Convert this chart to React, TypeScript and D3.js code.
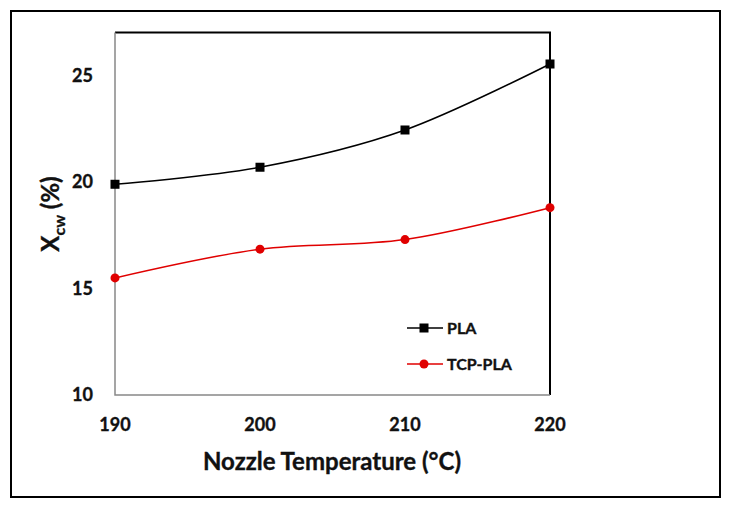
import { useEffect, useRef } from "react";
import * as d3 from "d3";

const temps = [190, 200, 210, 220];
const pla = [19.9, 20.7, 22.45, 25.55];
const tcpPla = [15.5, 16.85, 17.3, 18.8];
const yTicks = [10, 15, 20, 25];
const seriesNames = ["PLA", "TCP-PLA"];

const W = 732;
const H = 510;
const FONT = "Lato, 'Open Sans', sans-serif";

export default function App() {
  const ref = useRef<SVGSVGElement>(null);

  useEffect(() => {
    const svg = d3.select(ref.current);
    svg.selectAll("*").remove();

    const left = 115, right = 550, top = 32.5, bottom = 395;
    const x = d3.scaleLinear().domain([190, 220]).range([left, right]);
    const y = d3.scaleLinear().domain([10, 27.03]).range([bottom, top]);

    svg.append("rect").attr("width", W).attr("height", H).attr("fill", "#fff");

    // outer frame
    svg
      .append("rect")
      .attr("x", 11)
      .attr("y", 11)
      .attr("width", 709)
      .attr("height", 486)
      .attr("fill", "none")
      .attr("stroke", "#000")
      .attr("stroke-width", 2);

    // plot frame: top/right black, left/bottom gray
    svg
      .append("path")
      .attr("d", `M${left},${top}H${right}V${bottom}`)
      .attr("fill", "none")
      .attr("stroke", "#000")
      .attr("stroke-width", 2);
    svg
      .append("path")
      .attr("d", `M${left},${top}V${bottom}H${right}`)
      .attr("fill", "none")
      .attr("stroke", "#888")
      .attr("stroke-width", 1.5);

    const boldText = (sel: any, size: number) =>
      sel
        .attr("font-family", FONT)
        .attr("font-weight", "bold")
        .attr("font-size", size)
        .attr("fill", "#111")
        .attr("stroke", "#111")
        .attr("stroke-width", 0.35);

    // ticks
    svg
      .append("g")
      .selectAll("text")
      .data(yTicks)
      .join("text")
      .attr("x", 93)
      .attr("y", (d) => y(d))
      .attr("dy", "0.35em")
      .attr("text-anchor", "end")
      .call(boldText, 18)
      .text((d) => d);

    svg
      .append("g")
      .selectAll("text")
      .data(temps)
      .join("text")
      .attr("x", (d) => x(d))
      .attr("y", 425)
      .attr("dy", "0.35em")
      .attr("text-anchor", "middle")
      .call(boldText, 18)
      .text((d) => d);

    // axis titles
    svg
      .append("text")
      .attr("x", 332)
      .attr("y", 462)
      .attr("dy", "0.35em")
      .attr("text-anchor", "middle")
      .call(boldText, 24)
      .text("Nozzle Temperature (°C)");

    const yt = svg
      .append("text")
      .attr("transform", "translate(51,214) rotate(-90)")
      .attr("dy", "0.35em")
      .attr("text-anchor", "middle")
      .call(boldText, 24);
    yt.append("tspan").text("X");
    yt.append("tspan").attr("font-size", 16).attr("dy", 6).text("cw");
    yt.append("tspan").attr("dy", -6).text(" (%)");

    const line = d3
      .line<number>()
      .x((_, i) => x(temps[i]))
      .y((d) => y(d))
      .curve(d3.curveCatmullRom.alpha(0));

    const series = [
      { name: seriesNames[0], values: pla, color: "#000", shape: "square" },
      { name: seriesNames[1], values: tcpPla, color: "#e00000", shape: "circle" },
    ];

    const marker = (g: any, cx: number, cy: number, s: any) => {
      if (s.shape === "square") {
        g.append("rect")
          .attr("x", cx - 4.5)
          .attr("y", cy - 4.5)
          .attr("width", 9)
          .attr("height", 9)
          .attr("fill", s.color);
      } else {
        g.append("circle").attr("cx", cx).attr("cy", cy).attr("r", 4.5).attr("fill", s.color);
      }
    };

    series.forEach((s, si) => {
      const g = svg.append("g");
      g.append("path")
        .attr("d", line(s.values) ?? "")
        .attr("fill", "none")
        .attr("stroke", s.color)
        .attr("stroke-width", 1.5);
      s.values.forEach((v, i) => marker(g, x(temps[i]), y(v), s));

      // legend
      const ly = 328 + si * 36;
      g.append("line")
        .attr("x1", 407)
        .attr("x2", 443)
        .attr("y1", ly)
        .attr("y2", ly)
        .attr("stroke", s.color)
        .attr("stroke-width", 1.5);
      marker(g, 424, ly, s);
      g.append("text")
        .attr("x", 447)
        .attr("y", ly)
        .attr("dy", "0.35em")
        .call(boldText, 16)
        .text(s.name);
    });
  }, []);

  return (
    <svg
      ref={ref}
      width={W}
      height={H}
      style={{ position: "absolute", left: 0, top: 0 }}
    />
  );
}
